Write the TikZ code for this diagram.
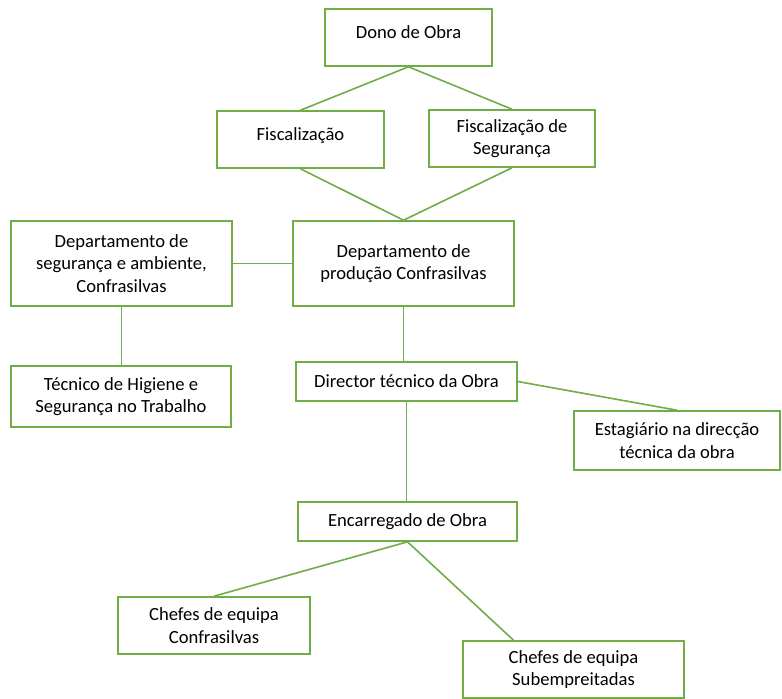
\documentclass[tikz,border=0pt]{standalone}
\usepackage{fontspec}
\setmainfont{Carlito}
\definecolor{boxgreen}{RGB}{112,173,71}

\begin{document}
\begin{tikzpicture}[x=0.5pt,y=-0.5pt,
    box/.style={draw=boxgreen, line width=0.8pt, fill=white, align=center,
        inner sep=2pt, font=\fontsize{9.3}{11.3}\selectfont},
    link/.style={draw=boxgreen, line width=0.8pt}]
    \useasboundingbox (0,0) rectangle (782,698);

    % Top of the hierarchy
    \node[box, minimum width=83.5pt, minimum height=28.5pt] (dono) at (408.5,37.5) {\raisebox{2.8pt}[\height][\depth]{Dono de Obra}};
    \node[box, minimum width=83.5pt, minimum height=28.5pt] (fisc) at (300.5,139.5) {\raisebox{2.2pt}[\height][\depth]{Fiscalização}};
    \node[box, minimum width=83pt, minimum height=28.5pt] (fiscseg) at (512,138.5) {Fiscalização de\\Segurança};

    % Departments
    \node[box, minimum width=110.5pt, minimum height=42.5pt] (prod) at (403.5,263.5) {Departamento de\\produção Confrasilvas};
    \node[box, minimum width=110.5pt, minimum height=42.5pt] (segamb) at (121.5,263.5) {Departamento de\\segurança e ambiente,\\Confrasilvas};
    \node[box, minimum width=110pt, minimum height=30.5pt] (tecnico) at (121,396.5) {Técnico de Higiene e\\Segurança no Trabalho};

    % Site management
    \node[box, minimum width=110.5pt, minimum height=19.5pt] (director) at (406.5,381.5) {Director técnico da Obra};
    \node[box, minimum width=103pt, minimum height=29.5pt] (estag) at (677,440.5) {Estagiário na direcção\\técnica da obra};
    \node[box, minimum width=109.5pt, minimum height=19.5pt] (encarr) at (407.5,521.5) {Encarregado de Obra};

    % Team leaders
    \node[box, minimum width=96pt, minimum height=28.5pt] (chefconf) at (214,625.5) {Chefes de equipa\\Confrasilvas};
    \node[box, minimum width=110.5pt, minimum height=28.5pt] (chefsub) at (573.5,669.5) {Chefes de equipa\\Subempreitadas};

    % Connectors
    \draw[link] (dono.south) -- (fisc.north);
    \draw[link] (dono.south) -- (fiscseg.north);
    \draw[link] (fisc.south) -- (prod.north);
    \draw[link] (fiscseg.south) -- (prod.north);
    \draw[link] (segamb.east) -- (prod.west);
    \draw[link] (segamb.south) -- (segamb.south |- tecnico.north);
    \draw[link] (prod.south) -- (prod.south |- director.north);
    \draw[link] (director.east) -- (estag.north);
    \draw[link] (director.south) -- (director.south |- encarr.north);
    \draw[link] (encarr.south) -- (chefconf.north);
    \draw[link] (encarr.south) -- ([xshift=-30pt]chefsub.north);
\end{tikzpicture}
\end{document}
